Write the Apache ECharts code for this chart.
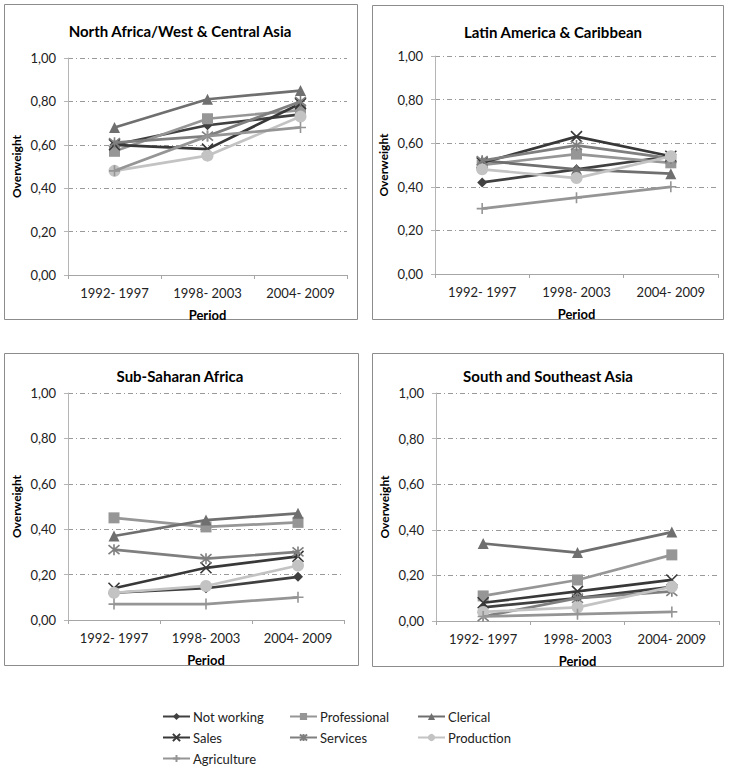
<!DOCTYPE html>
<html>
<head>
<meta charset="utf-8">
<script src="https://cdn.jsdelivr.net/npm/echarts@6/dist/echarts.min.js"></script>
<style>html,body{margin:0;padding:0;background:#fff;}#c{width:729px;height:772px;}</style>
</head>
<body>
<div id="c"></div>
<script>
const periods = ['1992- 1997', '1998- 2003', '2004- 2009'];
const seriesNames = ['Not working', 'Professional', 'Clerical', 'Sales', 'Services', 'Production', 'Agriculture'];
const panelTitles = ['North Africa/West & Central Asia', 'Latin America & Caribbean', 'Sub-Saharan Africa', 'South and Southeast Asia'];

// values per panel, per occupation (order of seriesNames)
const northAfrica = [
  [0.60, 0.69, 0.74],
  [0.57, 0.72, 0.76],
  [0.68, 0.81, 0.85],
  [0.60, 0.58, 0.79],
  [0.61, 0.64, 0.80],
  [0.48, 0.55, 0.73],
  [0.48, 0.64, 0.68]
];
const latinAmerica = [
  [0.42, 0.48, 0.54],
  [0.50, 0.55, 0.51],
  [0.52, 0.48, 0.46],
  [0.51, 0.63, 0.54],
  [0.52, 0.59, 0.53],
  [0.48, 0.44, 0.54],
  [0.30, 0.35, 0.40]
];
const subSaharan = [
  [0.12, 0.14, 0.19],
  [0.45, 0.41, 0.43],
  [0.37, 0.44, 0.47],
  [0.14, 0.23, 0.28],
  [0.31, 0.27, 0.30],
  [0.12, 0.15, 0.24],
  [0.07, 0.07, 0.10]
];
const southAsia = [
  [0.06, 0.10, 0.15],
  [0.11, 0.18, 0.29],
  [0.34, 0.30, 0.39],
  [0.08, 0.13, 0.18],
  [0.02, 0.10, 0.13],
  [0.04, 0.06, 0.15],
  [0.02, 0.03, 0.04]
];
const panelData = [northAfrica, latinAmerica, subSaharan, southAsia];

const colors = ['#404040', '#969696', '#6f6f6f', '#383838', '#7f7f7f', '#c3c3c3', '#959595'];
const symbols = [
  'diamond', 'rect', 'triangle',
  'path://M0,0L10,10M10,0L0,10',
  'path://M0,0L10,10M10,0L0,10M5,-1L5,11',
  'circle',
  'path://M5,0L5,10M0,5L10,5'
];
const symbolSizes = [10, 11, 11, 11, 11, 12, 11];
const stroked = [false, false, false, true, true, false, true];

const FONT = 'Lato, "Open Sans", sans-serif';

const grids = [
  {left: 68, top: 58, width: 279, height: 217},
  {left: 435, top: 56, width: 283, height: 218},
  {left: 68, top: 393, width: 276, height: 227},
  {left: 436, top: 393, width: 283, height: 228}
];
const titlePos = [[180, 31], [553, 32], [180, 376], [548, 376]];
const boxes = [[4, 4, 353, 315], [372, 5, 351, 314], [4, 353, 354, 312], [372, 353, 351, 313]];

const xAxes = [], yAxes = [], series = [], graphics = [];
grids.forEach((g, i) => {
  xAxes.push({
    type: 'category', gridIndex: i, data: periods, boundaryGap: true,
    name: 'Period', nameLocation: 'middle', nameGap: 33,
    nameTextStyle: {fontFamily: FONT, fontWeight: 'bold', fontSize: 13, color: '#000'},
    axisLine: {lineStyle: {color: '#a6a6a6', width: 1}},
    axisTick: {show: true, length: 4, lineStyle: {color: '#a6a6a6'}},
    axisLabel: {fontFamily: FONT, fontSize: 13, color: '#222', margin: 11}
  });
  yAxes.push({
    type: 'value', gridIndex: i, min: 0, max: 1, interval: 0.2,
    name: 'Overweight', nameLocation: 'middle', nameGap: 46, nameRotate: 90,
    nameTextStyle: {fontFamily: FONT, fontWeight: 'bold', fontSize: 12, color: '#000'},
    axisLine: {show: true, lineStyle: {color: '#b5b5b5', width: 1}},
    axisTick: {show: true, length: 4, lineStyle: {color: '#b5b5b5'}},
    axisLabel: {fontFamily: FONT, fontSize: 13, color: '#222', margin: 12,
      formatter: v => v.toFixed(2).replace('.', ',')},
    splitLine: {show: true, lineStyle: {color: '#9a9a9a', width: 1, type: [5, 3, 1, 3]}}
  });
  seriesNames.forEach((name, k) => {
    series.push({
      name: name, type: 'line', xAxisIndex: i, yAxisIndex: i,
      data: panelData[i][k],
      symbol: symbols[k], symbolSize: symbolSizes[k], showSymbol: true,
      lineStyle: {color: colors[k], width: 2.7},
      itemStyle: stroked[k] ? {color: colors[k], borderColor: colors[k], borderWidth: 1.6} : {color: colors[k], borderWidth: 0},
      animation: false, z: 2 + k
    });
  });
  const b = boxes[i];
  graphics.push({type: 'rect', shape: {x: b[0] + 0.5, y: b[1] + 0.5, width: b[2], height: b[3]},
    style: {fill: 'none', stroke: '#8c8c8c', lineWidth: 1}, silent: true, z: -1});
  graphics.push({type: 'text', x: titlePos[i][0], y: titlePos[i][1],
    style: {text: panelTitles[i], fontFamily: FONT, fontWeight: 'bold', fontSize: 15, fill: '#000',
      textAlign: 'center', textVerticalAlign: 'middle'}});
});

const legendCols = [
  {left: 162, data: ['Not working', 'Sales', 'Agriculture']},
  {left: 289, data: ['Professional', 'Services']},
  {left: 417, data: ['Clerical', 'Production']}
];
const legends = legendCols.map(c => ({
  orient: 'vertical', left: c.left, top: 710, height: 62, padding: 0, data: c.data,
  itemWidth: 27, itemHeight: 9, itemGap: 8,
  textStyle: {fontFamily: FONT, fontSize: 13, color: '#222', padding: [0, 0, 0, -2]},
  selectedMode: false
}));

const chart = echarts.init(document.getElementById('c'), null, {renderer: 'svg'});
chart.setOption({
  backgroundColor: '#fff',
  animation: false,
  grid: grids,
  xAxis: xAxes,
  yAxis: yAxes,
  legend: legends,
  series: series,
  graphic: graphics
});
</script>
</body>
</html>
